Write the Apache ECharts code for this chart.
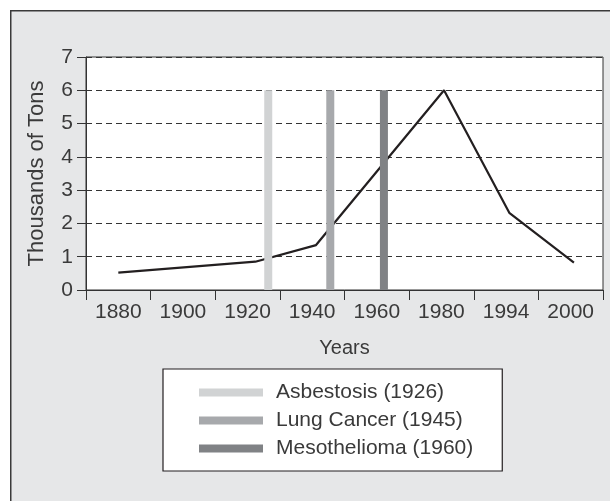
<!DOCTYPE html>
<html>
<head>
<meta charset="utf-8">
<script src="https://cdn.jsdelivr.net/npm/echarts@6/dist/echarts.min.js"></script>
<style>
html,body{margin:0;padding:0;background:#fff;}
#chart{width:610px;height:501px;}
</style>
</head>
<body>
<div id="chart"></div>
<script>
// Category tick labels (equally spaced slots)
var categories = ['1880', '1900', '1920', '1940', '1960', '1980', '1994', '2000'];
// Line vertices: position along the category slots (slot index) and value
var linePos = [0, 2.12, 3.06, 5.04, 6.05, 7.05];
var lineValues = [0.52, 0.85, 1.35, 6.0, 2.32, 0.82];
// Event markers (vertical bars)
var eventNames = ['Asbestosis (1926)', 'Lung Cancer (1945)', 'Mesothelioma (1960)'];
var eventPos = [2.32, 3.28, 4.11];
var eventValues = [6, 6, 6];
var eventColors = ['#d1d3d4', '#a7a9ac', '#808285'];
// Y axis ticks
var yMin = 0, yMax = 7, yStep = 1;

var FONT = 'Liberation Sans';
var TXT = '#3a3a3a';

var series = [{
  name: 'Usage',
  type: 'line',
  xAxisIndex: 1,
  data: linePos.map(function (p, i) { return [p, lineValues[i]]; }),
  showSymbol: false,
  symbol: 'none',
  lineStyle: { color: '#231f20', width: 2.2 },
  itemStyle: { color: '#231f20' },
  z: 3,
  animation: false
}];
eventNames.forEach(function (n, i) {
  series.push({
    name: n,
    type: 'line',
    xAxisIndex: 1,
    data: [[eventPos[i], 0], [eventPos[i], eventValues[i]]],
    showSymbol: false,
    symbol: 'none',
    lineStyle: { color: eventColors[i], width: 8, cap: 'butt' },
    itemStyle: { color: eventColors[i] },
    z: 4,
    animation: false
  });
});

var chart = echarts.init(document.getElementById('chart'), null, { renderer: 'canvas' });
chart.setOption({
  backgroundColor: '#ffffff',
  animation: false,
  textStyle: { fontFamily: FONT },
  graphic: [{
    type: 'rect',
    left: 10, top: 10,
    z: -100,
    silent: true,
    shape: { width: 640, height: 540 },
    style: { fill: '#e6e7e8', stroke: '#3a3a3a', lineWidth: 1.5 }
  }],
  grid: {
    left: 86, right: 7, top: 57, bottom: 211,
    show: true,
    backgroundColor: '#ffffff',
    borderColor: '#333333',
    borderWidth: 1
  },
  legend: {
    data: eventNames,
    orient: 'vertical',
    left: 163, top: 369,
    icon: 'rect',
    itemWidth: 64, itemHeight: 8,
    itemGap: 7,
    padding: [13, 29, 12, 36],
    backgroundColor: '#ffffff',
    borderColor: '#231f20',
    borderWidth: 1.2,
    borderRadius: 0,
    textStyle: { fontFamily: FONT, fontSize: 21, color: TXT, padding: [0, 0, 0, 8] },
    selectedMode: false
  },
  xAxis: [{
    type: 'category',
    data: categories,
    boundaryGap: true,
    name: 'Years',
    nameLocation: 'middle',
    nameGap: 48,
    nameTextStyle: { fontFamily: FONT, fontSize: 20, color: TXT },
    axisLine: { lineStyle: { color: '#333333', width: 1 } },
    axisTick: { show: true, length: 10, lineStyle: { color: '#333333' } },
    axisLabel: { fontFamily: FONT, fontSize: 21, color: TXT, margin: 12, interval: 0 },
    splitLine: { show: false }
  }, {
    type: 'value',
    min: -0.5, max: 7.5,
    show: false
  }],
  yAxis: {
    type: 'value',
    min: yMin, max: yMax, interval: yStep,
    name: 'Thousands of Tons',
    nameLocation: 'middle',
    nameGap: 38,
    nameTextStyle: { fontFamily: FONT, fontSize: 22, color: TXT },
    axisLine: { show: true, onZero: false, lineStyle: { color: '#333333', width: 1 } },
    axisTick: { show: true, length: 9, lineStyle: { color: '#333333' } },
    axisLabel: { fontFamily: FONT, fontSize: 21, color: TXT, margin: 13 },
    splitLine: { show: true, lineStyle: { color: '#333333', type: [6, 4], width: 1 } }
  },
  series: series
});
</script>
</body>
</html>
